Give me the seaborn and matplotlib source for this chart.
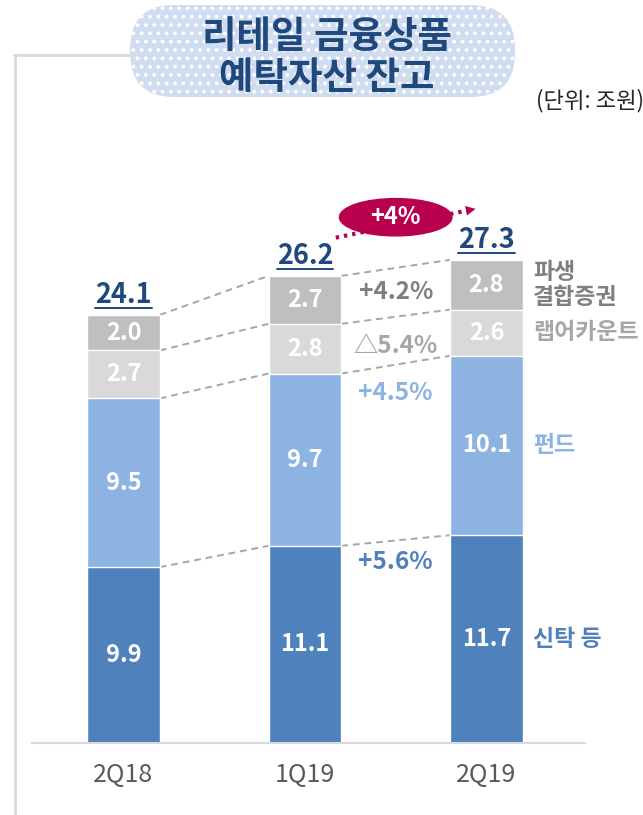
import numpy as np
import pandas as pd
import seaborn as sns
import matplotlib.pyplot as plt
from matplotlib.patches import FancyBboxPatch, Ellipse
from matplotlib.lines import Line2D

# data
quarters = ["2Q18", "1Q19", "2Q19"]
trust = [9.9, 11.1, 11.7]
fund = [9.5, 9.7, 10.1]
wrap = [2.7, 2.8, 2.6]
dls = [2.0, 2.7, 2.8]
totals = [24.1, 26.2, 27.3]
growth = ["+5.6%", "+4.5%", "△5.4%", "+4.2%"]
series_names = ["신탁 등", "펀드", "랩어카운트", "파생\n결합증권"]
qoq_label = "+4%"

colors = ["#4F81BD", "#8DB3E2", "#D9D9D9", "#BFBFBF"]
label_colors = ["#4F81BD", "#8DB3E2", "#A6A6A6", "#7F7F7F"]
navy = "#1F497D"
magenta = "#B8004F"

sns.set_style("white")
plt.rcParams["font.family"] = ["Noto Sans CJK KR", "DejaVu Sans"]

segments = np.array([trust, fund, wrap, dls])
cum = segments.cumsum(axis=0)

fig = plt.figure(figsize=(6.43, 8.15), dpi=100)
ax = fig.add_axes([32 / 643, 72 / 815, 553 / 643, 643 / 815])

# stacked bars: draw cumulative heights from the top layer down
bw = 0.4
for k in range(3, -1, -1):
    df = pd.DataFrame({"quarter": quarters, "value": cum[k]})
    sns.barplot(data=df, x="quarter", y="value", order=quarters, color=colors[k],
                width=bw, saturation=1, ax=ax, zorder=2)

ax.set_xlim(-0.504, 2.543)
ax.set_ylim(0, 36.2)
ax.set_xlabel("")
ax.set_ylabel("")
ax.set_yticks([])
for s in ["top", "left", "right"]:
    ax.spines[s].set_visible(False)
ax.spines["bottom"].set_color("#D9D9D9")
ax.spines["bottom"].set_linewidth(1.5)
ax.tick_params(axis="x", length=0, pad=14, labelsize=18, labelcolor="#595959")

# segment values
for i in range(3):
    for k in range(4):
        mid = cum[k, i] - segments[k, i] / 2
        ax.text(i, mid, f"{segments[k, i]:.1f}", ha="center", va="center",
                color="white", fontsize=17, fontweight="bold", zorder=4)

# totals with underline
tot_texts = []
for i in range(3):
    t = ax.text(i, cum[3, i] + 1.1, f"{totals[i]:.1f}", ha="center", va="center",
                color=navy, fontsize=19.5, fontweight="bold", zorder=4)
    tot_texts.append(t)

# dashed connectors between bars
for k in range(4):
    for i in range(2):
        ax.plot([i + bw / 2, i + 1 - bw / 2], [cum[k, i], cum[k, i + 1]],
                color="#A6A6A6", lw=1.4, ls=(0, (3.5, 2.5)), zorder=1)

# growth labels between 1Q19 and 2Q19
mids = (cum[:, 1] + cum[:, 2]) / 2
growth_y = [mids[0] - 1.2, mids[1] - 1.6, (mids[1] + mids[2]) / 2 - 0.3,
            (mids[2] + mids[3]) / 2]
for k in range(4):
    ax.text(1.5, growth_y[k], growth[k], ha="center", va="center",
            color=label_colors[k], fontsize=17.5, fontweight="bold")

# series names at right of last bar
for k in range(4):
    mid = cum[k, 2] - segments[k, 2] / 2
    ax.text(2 + bw / 2 + 0.056, mid, series_names[k], ha="left", va="center",
            color=label_colors[k], fontsize=16.5, fontweight="bold",
            linespacing=1.1, clip_on=False)

# qoq bubble with dotted arrow
ax.plot([1.17, 1.88], [28.45, 29.95], color=magenta, lw=3, ls=(0, (0.8, 1.2)),
        zorder=3, solid_capstyle="butt")
ax.annotate("", xy=(1.955, 30.1), xytext=(1.87, 29.93),
            arrowprops=dict(arrowstyle="-|>,head_length=0.7,head_width=0.35",
                            color=magenta, lw=0), zorder=3)
ax.add_patch(Ellipse((1.5, 29.6), 0.62, 2.1, color=magenta, zorder=5, clip_on=False))
ax.text(1.5, 29.6, qoq_label, ha="center", va="center", color="white",
        fontsize=17, fontweight="bold", zorder=6)

# underline totals
fig.canvas.draw()
inv = ax.transData.inverted()
for t in tot_texts:
    bb = t.get_window_extent()
    (x0, y0), (x1, y1) = inv.transform([[bb.x0, bb.y0], [bb.x1, bb.y1]])
    ax.plot([x0, x1], [y0 + 0.05, y0 + 0.05], color=navy, lw=1.4, zorder=4)

# frame lines
fig.add_artist(Line2D([14.5 / 643, 14.5 / 643], [0, 1 - 55 / 815],
                      transform=fig.transFigure, color="#D9D9D9", lw=2))
fig.add_artist(Line2D([14 / 643, 135 / 643], [1 - 55 / 815, 1 - 55 / 815],
                      transform=fig.transFigure, color="#D9D9D9", lw=2))

# title pill
plt.rcParams["hatch.linewidth"] = 1.5
pill = FancyBboxPatch((130, 815 - 97), 385, 92,
                      boxstyle="round,pad=0,rounding_size=44",
                      transform=None, facecolor="#D0DDF0", edgecolor="white",
                      hatch="..", lw=0, zorder=10)
fig.add_artist(pill)
fig.text(327 / 643, 1 - 57 / 815, "리테일 금융상품\n예탁자산 잔고", ha="center",
         va="center", color=navy, fontsize=27, fontweight="bold",
         linespacing=1.05, zorder=11)

fig.text(536 / 643, 1 - 101 / 815, "(단위: 조원)", ha="left", va="center",
         color="#262626", fontsize=16)

fig.savefig("out.png", dpi=100)
